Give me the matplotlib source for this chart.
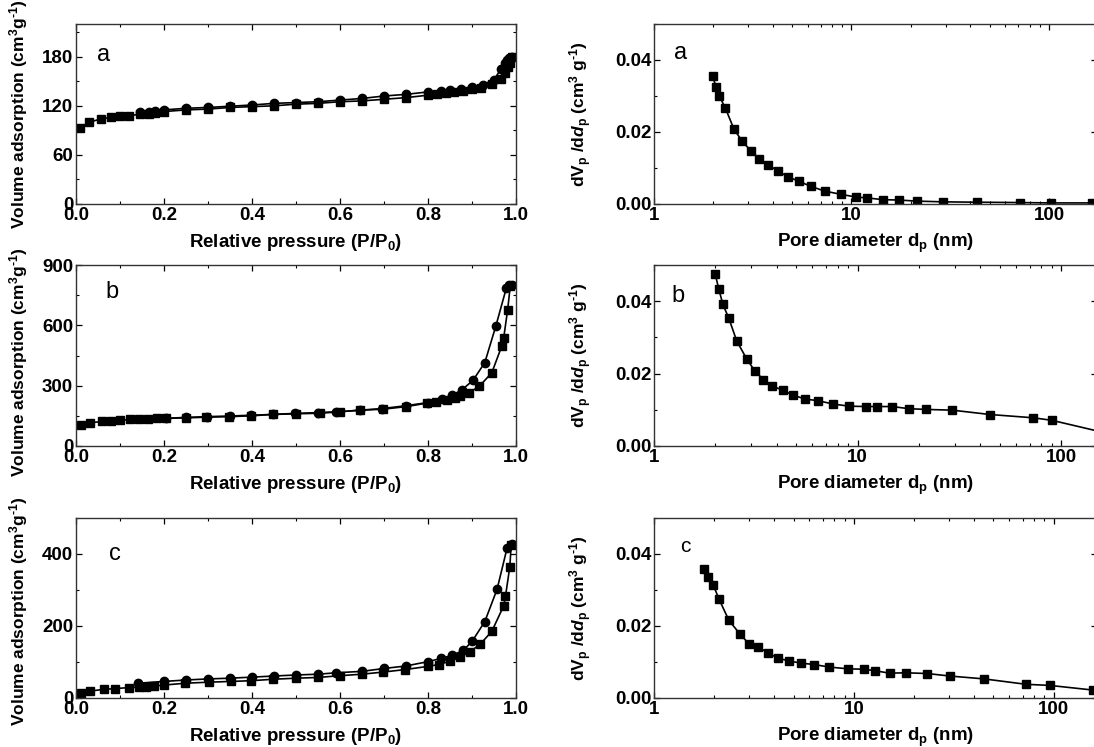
import matplotlib
matplotlib.use('Agg')
import matplotlib.pyplot as plt
from matplotlib.ticker import MultipleLocator, FixedLocator, FixedFormatter, LogLocator, NullFormatter, FormatStrFormatter

# fonte tipo Arial em negrito, como no original
plt.rcParams['font.family'] = 'Liberation Sans'
plt.rcParams['font.weight'] = 'bold'
plt.rcParams['mathtext.fontset'] = 'custom'
plt.rcParams['mathtext.rm'] = 'Liberation Sans:bold'
plt.rcParams['mathtext.it'] = 'Liberation Sans:bold:italic'
plt.rcParams['mathtext.bf'] = 'Liberation Sans:bold'
plt.rcParams['mathtext.default'] = 'rm'

##########################################################################################
# ISOTERMAS (adsorcao = quadrados, dessorcao = circulos)

a_ads_p = [0.008, 0.03, 0.057, 0.08, 0.10, 0.12, 0.145, 0.165, 0.18, 0.20, 0.25, 0.30, 0.35, 0.40,
           0.45, 0.50, 0.55, 0.60, 0.65, 0.70, 0.75, 0.80, 0.82, 0.84, 0.86, 0.88, 0.90, 0.92,
           0.945, 0.966, 0.975, 0.981, 0.986, 0.99]
a_ads_v = [93, 100, 104, 106, 107, 108, 109.5, 110.5, 111, 113, 115, 116, 118, 119,
           120, 122, 123, 125, 126, 128, 130, 133, 134, 136, 137, 138, 140, 142,
           147, 153, 160, 168, 172, 180]
a_des_p = [0.99, 0.985, 0.98, 0.975, 0.966, 0.95, 0.925, 0.90, 0.875, 0.85, 0.83, 0.80, 0.75, 0.70,
           0.65, 0.60, 0.55, 0.50, 0.45, 0.40, 0.35, 0.30, 0.25, 0.20, 0.18, 0.165, 0.145]
a_des_v = [180, 178, 176, 172, 165, 152, 146, 143, 141, 139, 138, 137, 134, 132,
           129, 127, 125, 124, 123, 121, 119.5, 118, 117, 115, 114, 113, 113]

b_ads_p = [0.011, 0.031, 0.059, 0.080, 0.101, 0.122, 0.143, 0.163, 0.185, 0.204, 0.249, 0.295,
           0.348, 0.398, 0.447, 0.50, 0.554, 0.60, 0.645, 0.698, 0.751, 0.797, 0.818, 0.843,
           0.862, 0.873, 0.894, 0.917, 0.945, 0.968, 0.972, 0.981, 0.987]
b_ads_v = [104, 115, 122, 125, 128, 132, 133, 135, 137, 137, 140, 143,
           146, 150, 157, 160, 163, 170, 178, 183, 196, 213, 218, 229,
           237, 249, 265, 298, 364, 499, 537, 677, 796]
b_des_p = [0.99, 0.983, 0.978, 0.954, 0.929, 0.902, 0.877, 0.855, 0.832, 0.80, 0.749, 0.695,
           0.645, 0.592, 0.55, 0.497, 0.447, 0.398, 0.349, 0.297, 0.25, 0.204]
b_des_v = [800, 800, 785, 595, 414, 326, 279, 252, 236, 216, 200, 186,
           178, 170, 166, 162, 157, 153, 149, 146, 142, 138]

c_ads_p = [0.011, 0.031, 0.063, 0.088, 0.12, 0.143, 0.16, 0.177, 0.20, 0.248, 0.303, 0.352,
           0.398, 0.447, 0.50, 0.55, 0.60, 0.649, 0.698, 0.748, 0.801, 0.824, 0.85, 0.873,
           0.896, 0.919, 0.945, 0.972, 0.976, 0.986, 0.989]
c_ads_v = [13, 19, 24, 26, 29, 30, 31, 33, 36, 41, 44, 46,
           48, 52, 55, 57, 62, 66, 72, 79, 88, 93, 102, 113,
           129, 150, 185, 256, 282, 365, 424]
c_des_p = [0.99, 0.98, 0.957, 0.929, 0.90, 0.88, 0.855, 0.83, 0.80, 0.75, 0.70, 0.65,
           0.59, 0.55, 0.50, 0.45, 0.40, 0.35, 0.30, 0.25, 0.20, 0.14]
c_des_v = [428, 418, 302, 212, 157, 132, 119, 110, 101, 89, 82, 74,
           70, 66, 64, 61, 58, 55, 53, 50, 46, 41]

##########################################################################################
# DISTRIBUICAO DE POROS

a_d = [1.98, 2.06, 2.14, 2.30, 2.54, 2.80, 3.10, 3.42, 3.78, 4.23, 4.75, 5.42, 6.23, 7.30,
       8.82, 10.6, 12.0, 14.4, 17.3, 21.5, 29.0, 43, 71, 102, 165]
a_dv = [0.0355, 0.0326, 0.0300, 0.0266, 0.0208, 0.0174, 0.0147, 0.0125, 0.0109, 0.0092,
        0.0076, 0.0063, 0.0049, 0.0036, 0.0027, 0.0019, 0.0017, 0.0012, 0.0011, 0.0008,
        0.0006, 0.0005, 0.0004, 0.0003, 0.0003]

b_d = [2.0, 2.08, 2.18, 2.33, 2.55, 2.85, 3.13, 3.45, 3.82, 4.28, 4.81, 5.49, 6.41, 7.57,
       9.09, 11.0, 12.4, 14.8, 17.9, 21.8, 29.2, 44.7, 72.7, 90.0, 160]
b_dv = [0.0474, 0.0434, 0.0391, 0.0353, 0.0290, 0.0241, 0.0207, 0.0183, 0.0166, 0.0154,
        0.0141, 0.0130, 0.0125, 0.0116, 0.0110, 0.0109, 0.0109, 0.0109, 0.0103, 0.0101,
        0.0099, 0.0087, 0.0078, 0.0071, 0.0038]

c_d = [1.77, 1.86, 1.98, 2.11, 2.37, 2.68, 2.98, 3.32, 3.70, 4.16, 4.73, 5.43, 6.31, 7.54,
       9.37, 11.2, 12.7, 15.1, 18.3, 23.3, 30.3, 45.0, 73.0, 95.7, 158]
c_dv = [0.0357, 0.0335, 0.0314, 0.0276, 0.0216, 0.0179, 0.0151, 0.0142, 0.0126, 0.0111,
        0.0103, 0.0097, 0.0093, 0.0086, 0.0081, 0.0080, 0.0076, 0.0069, 0.0070, 0.0068,
        0.0061, 0.0053, 0.0038, 0.0035, 0.0022]

letras = ['a', 'b', 'c']
ylims_iso = [220, 900, 500]
ysteps_iso = [60, 300, 200]
xmax_poro = [175, 150, 165]

##########################################################################################

W, H = 1094, 747
fig = plt.figure(figsize=(W / 100, H / 100), dpi=100)

# posicoes das linhas (topo, base) em pixels
linhas = [(24, 204), (265, 446), (518, 698)]
esq = (76, 516)     # coluna da esquerda (px)
dir_ = (654, 1097)  # coluna da direita, passa um pouco da borda


def estilo(ax):
    for s in ax.spines.values():
        s.set_linewidth(1.0)
        s.set_color('#333333')
    ax.tick_params(which='both', direction='in', top=True, right=True, labelsize=13.5, pad=2)
    ax.tick_params(which='major', length=4, width=0.9)
    ax.tick_params(which='minor', length=2.5, width=0.8)


isotermas = [(a_ads_p, a_ads_v, a_des_p, a_des_v),
             (b_ads_p, b_ads_v, b_des_p, b_des_v),
             (c_ads_p, c_ads_v, c_des_p, c_des_v)]
poros = [(a_d, a_dv), (b_d, b_dv), (c_d, c_dv)]

pos_letra_esq = [(0.048, 0.83), (0.068, 0.85), (0.075, 0.80)]
pos_letra_dir = [(0.045, 0.84), (0.04, 0.83), (0.06, 0.84)]
centro_ylabel = [0.5, 0.46, 0.48]

menos = '\u2010'

for i, (topo, base) in enumerate(linhas):
    b0 = 1 - base / H
    h = (base - topo) / H

    # isoterma
    ax = fig.add_axes([esq[0] / W, b0, (esq[1] - esq[0]) / W, h])
    pa, va, pd_, vd = isotermas[i]
    ax.plot(pa, va, 'k-', marker='s', ms=5.5, lw=1.2)
    ax.plot(pd_, vd, 'k-', marker='o', ms=6, lw=1.2)
    ax.set_xlim(0, 1.0)
    ax.set_ylim(0, ylims_iso[i])
    ax.xaxis.set_major_locator(MultipleLocator(0.2))
    ax.xaxis.set_minor_locator(MultipleLocator(0.1))
    ax.xaxis.set_major_formatter(FormatStrFormatter('%.1f'))
    ax.yaxis.set_major_locator(MultipleLocator(ysteps_iso[i]))
    ax.yaxis.set_minor_locator(MultipleLocator(ysteps_iso[i] / 2))
    estilo(ax)
    ax.set_xlabel('Relative pressure (P/P$_0$)', fontsize=13.5, fontweight='bold', va='top')
    ax.xaxis.set_label_coords(0.5, -0.155)
    ax.set_ylabel('Volume adsorption (cm$^3$g$^{' + menos + '1}$)', fontsize=12.5, fontweight='bold')
    ax.yaxis.set_label_coords(-0.105, centro_ylabel[i])
    ax.text(pos_letra_esq[i][0], pos_letra_esq[i][1], letras[i], transform=ax.transAxes,
            fontsize=17, fontweight='normal', ha='left', va='center')

    # distribuicao de poros
    ax2 = fig.add_axes([dir_[0] / W, b0, (dir_[1] - dir_[0]) / W, h])
    d, dv = poros[i]
    ax2.plot(d, dv, 'k-', marker='s', ms=5.5, lw=1.2)
    ax2.set_xscale('log')
    ax2.set_xlim(1, xmax_poro[i])
    ax2.set_ylim(0, 0.05)
    ax2.xaxis.set_major_locator(FixedLocator([1, 10, 100]))
    ax2.xaxis.set_major_formatter(FixedFormatter(['1', '10', '100']))
    ax2.xaxis.set_minor_locator(LogLocator(base=10, subs=range(2, 10)))
    ax2.xaxis.set_minor_formatter(NullFormatter())
    ax2.yaxis.set_major_locator(MultipleLocator(0.02))
    ax2.yaxis.set_minor_locator(MultipleLocator(0.01))
    ax2.yaxis.set_major_formatter(FormatStrFormatter('%.2f'))
    estilo(ax2)
    ax2.set_xlabel('Pore diameter d$_p$ (nm)', fontsize=13.5, fontweight='bold', va='top')
    ax2.xaxis.set_label_coords(0.5, -0.155)
    ax2.set_ylabel('dV$_p$ /d$\\mathit{d}_p$ (cm$^3$ g$^{' + menos + '1}$)', fontsize=12.5,
                   fontweight='bold')
    ax2.yaxis.set_label_coords(-0.135, 0.5)
    ax2.text(pos_letra_dir[i][0], pos_letra_dir[i][1], letras[i], transform=ax2.transAxes,
             fontsize=17 if i < 2 else 15, fontweight='normal', ha='left', va='center')

fig.savefig('out.png', dpi=100)
